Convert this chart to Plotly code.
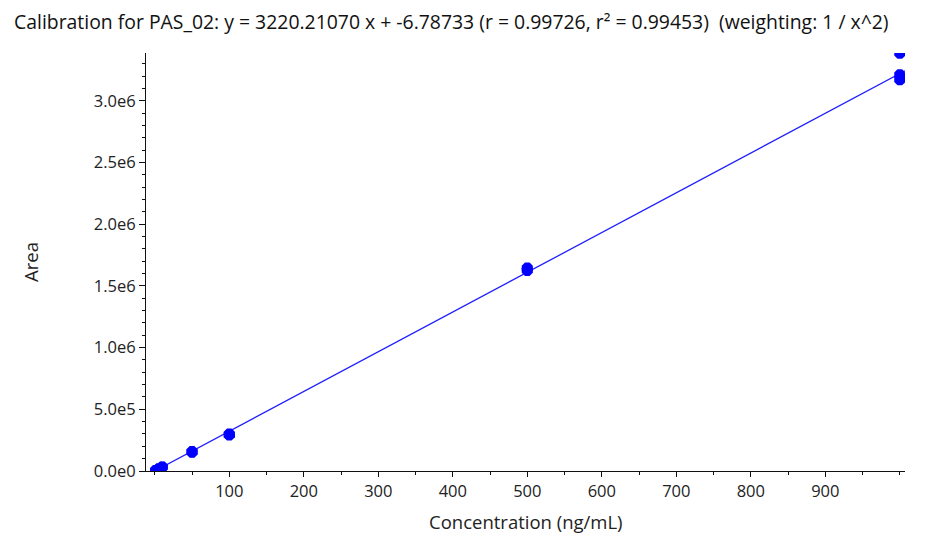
import plotly.graph_objects as go

# Calibration standards (replicates)
conc = [1, 1, 5, 5, 10, 10, 50, 50, 100, 100, 500, 500, 1000, 1000, 1000]
area = [3200, 3300, 16000, 16500, 31000, 33000, 152000, 157000, 293000, 299000,
        1625000, 1645000, 3385000, 3210000, 3170000]

slope = 3220.21070
intercept = -6.78733
fit_x = [0, 1007]
fit_y = [slope * v + intercept for v in fit_x]

x_ticks = [100, 200, 300, 400, 500, 600, 700, 800, 900]
x_minor = [0, 50, 150, 250, 350, 450, 550, 650, 750, 850, 950, 1000]
y_ticks = [0, 500000, 1000000, 1500000, 2000000, 2500000, 3000000]
y_labels = ["0.0e0", "5.0e5", "1.0e6", "1.5e6", "2.0e6", "2.5e6", "3.0e6"]
y_minor = [v * 100000 for v in range(0, 34) if v % 5 != 0]

title_text = ("Calibration for PAS_02: y = 3220.21070 x + -6.78733 (r = 0.99726, "
              "r\u00b2 = 0.99453)  (weighting: 1 / x^2)")

fig = go.Figure()
fig.add_trace(go.Scatter(x=fit_x, y=fit_y, mode="lines",
                         line=dict(color="#1f1fff", width=1.3),
                         hoverinfo="skip", showlegend=False))
fig.add_trace(go.Scatter(x=conc, y=area, mode="markers",
                         marker=dict(color="#0000ff", size=12, symbol="octagon",
                                     line=dict(width=0)),
                         showlegend=False))

font_family = "Open Sans, Noto Sans, DejaVu Sans, sans-serif"

fig.update_layout(
    width=936, height=540,
    margin=dict(l=138, r=39, t=45, b=77),
    paper_bgcolor="white", plot_bgcolor="white",
    font=dict(family=font_family, size=16, color="#222222"),
    title=dict(text=title_text, x=6 / 936, xanchor="left", xref="container",
               y=1 - 14 / 540, yanchor="middle", yref="container",
               font=dict(size=19.4, color="#111111")),
    annotations=[
        dict(text="Concentration (ng/mL)", xref="paper", yref="paper",
             x=0.5, y=-0.122, xanchor="center", yanchor="middle",
             showarrow=False, font=dict(size=18.5)),
        dict(text="Area", xref="paper", yref="paper",
             x=(30 - 146) / 759, y=0.5, xanchor="center", yanchor="middle",
             textangle=-90, showarrow=False, font=dict(size=18.5)),
    ],
)

fig.update_xaxes(
    range=[-11.8, 1007], showgrid=False, zeroline=False,
    showline=True, linecolor="#111111", linewidth=1,
    ticks="outside", ticklen=5, tickwidth=1, tickcolor="#111111",
    tickmode="array", tickvals=x_ticks, tickfont=dict(size=16.5),
    minor=dict(tickmode="array", tickvals=x_minor, ticks="outside",
               ticklen=3, tickwidth=1, tickcolor="#111111", showgrid=False),
)
fig.update_yaxes(
    range=[0, 3.387e6], showgrid=False, zeroline=False,
    showline=True, linecolor="#111111", linewidth=1,
    ticks="outside", ticklen=6, tickwidth=1, tickcolor="#111111",
    tickmode="array", tickvals=y_ticks, ticktext=y_labels, tickfont=dict(size=16.5),
    minor=dict(tickmode="array", tickvals=y_minor, ticks="outside",
               ticklen=3, tickwidth=1, tickcolor="#111111", showgrid=False),
)

fig.write_html("out.html")
